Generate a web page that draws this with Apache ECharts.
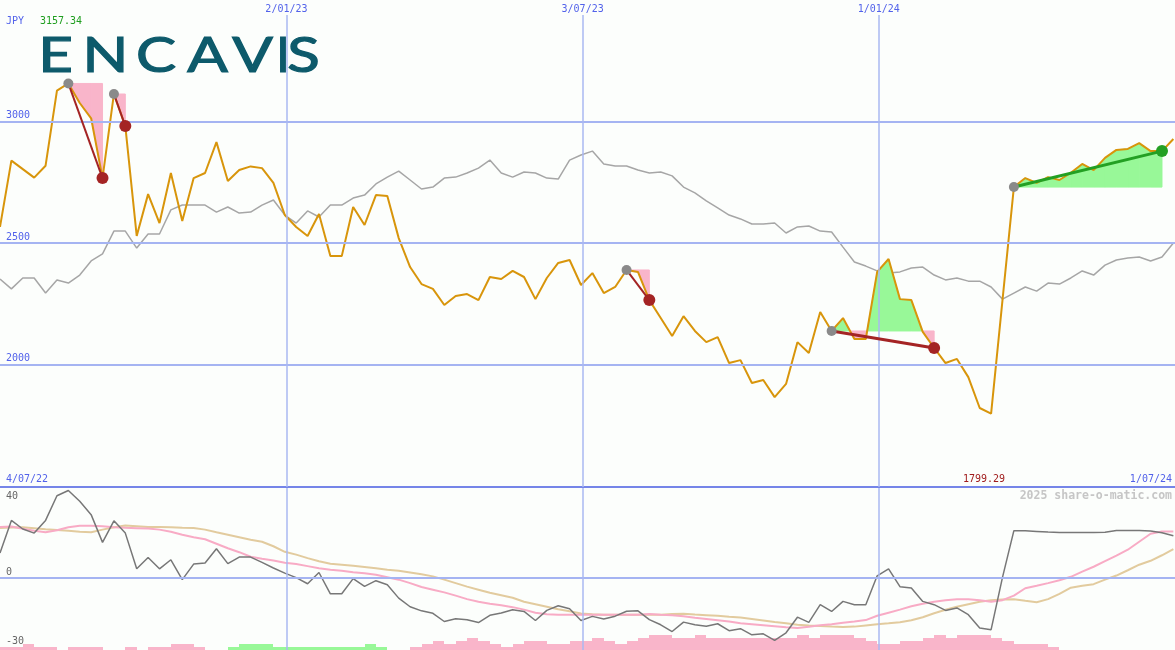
<!DOCTYPE html>
<html>
<head>
<meta charset="utf-8">
<script src="https://cdn.jsdelivr.net/npm/echarts@6/dist/echarts.min.js"></script>
<style>
html,body{margin:0;padding:0;background:#fcfefc;}
#chart{width:1175px;height:650px;}
</style>
</head>
<body>
<div id="chart"></div>
<script>
// ---------- data (weekly closes, Sundays from 10 Jul 2022) ----------
const firstWeek = '2022-07-10';
const axisStart = '2022-07-10';
const axisEnd = '2024-07-01';

const price = [2567, 2840, 2805, 2770, 2819, 3128, 3157.34, 3077, 3014, 2768,
 3114, 2982, 2530, 2702, 2583, 2789, 2591, 2768, 2789, 2916,
 2756, 2801, 2816, 2809, 2748, 2616, 2567, 2530, 2620, 2447,
 2447, 2649, 2575, 2698, 2694, 2521, 2402, 2332, 2312, 2246,
 2283, 2291, 2266, 2361, 2353, 2386, 2361, 2270, 2357, 2419,
 2431, 2328, 2377, 2295, 2320, 2390, 2382, 2266, 2192, 2118,
 2200, 2139, 2093, 2114, 2007, 2019, 1925, 1937, 1867, 1921,
 2093, 2048, 2217, 2139, 2192, 2106, 2106, 2382, 2435, 2270,
 2266, 2135, 2069, 2007, 2024, 1949, 1822, 1799.29, 2266, 2731,
 2768, 2748, 2772, 2760, 2790, 2826, 2801, 2851, 2884, 2888,
 2912, 2879, 2879, 2929];

const benchmark = [2353, 2312, 2357, 2357, 2295, 2349, 2336, 2369, 2427, 2456,
 2550, 2550, 2480, 2538, 2538, 2637, 2657, 2657, 2657, 2628,
 2649, 2624, 2628, 2657, 2678, 2616, 2583, 2633, 2608, 2657,
 2657, 2686, 2698, 2744, 2772, 2797, 2760, 2723, 2731, 2768,
 2772, 2789, 2809, 2842, 2789, 2772, 2793, 2789, 2768, 2764,
 2842, 2863, 2879, 2826, 2818, 2818, 2801, 2789, 2793, 2777,
 2731, 2707, 2674, 2645, 2616, 2600, 2579, 2579, 2583, 2542,
 2567, 2571, 2550, 2546, 2484, 2423, 2406, 2386, 2377, 2382,
 2398, 2402, 2369, 2349, 2357, 2344, 2344, 2320, 2270, 2295,
 2320, 2303, 2336, 2332, 2357, 2386, 2369, 2410, 2431, 2439,
 2443, 2427, 2443, 2501];

const momentum = [12.3, 28.2, 24, 22, 28.2, 40.2, 42.8, 37.5, 31, 17.5,
 28, 22, 4.6, 10.1, 4.6, 9, -0.7, 6.9, 7.4, 14.4,
 7.1, 10.3, 10.3, 7.7, 5, 2.5, 0.3, -2.7, 2.8, -7.6,
 -7.6, -0.2, -4, -1.2, -3.2, -9.7, -13.9, -15.9, -17.1, -21.1,
 -19.8, -20.2, -21.6, -18.1, -17, -15.4, -16.2, -20.6, -15.7, -13.4,
 -14.9, -20.6, -18.6, -19.9, -18.5, -16.1, -15.9, -20.2, -22.7, -26,
 -21.4, -22.7, -23.4, -22.2, -25.6, -24.6, -27.6, -27.1, -30.3, -26.6,
 -19, -21.5, -12.9, -16.2, -11.3, -12.9, -12.9, 1.2, 4.6, -4.1,
 -4.8, -11.3, -12.9, -15.7, -14.5, -17.8, -24.3, -25.1, 0.4, 23.2,
 23.1, 22.8, 22.5, 22.3, 22.3, 22.3, 22.3, 22.4, 23.3, 23.3,
 23.3, 23.0, 22.2, 20.7];

const momentumFast = [25, 25.2, 24.1, 23.2, 22.4, 23.4, 24.9, 25.6, 25.6, 25.4,
 24.9, 24.6, 24.4, 24.2, 23.7, 22.7, 21.2, 20, 19, 16.8,
 14.6, 12.7, 10.5, 9.5, 8.6, 7.6, 6.9, 5.9, 4.9, 4.1,
 3.7, 2.9, 2.4, 1.7, 0.5, -0.7, -2.4, -4.3, -5.6, -6.9,
 -8.5, -10.2, -11.5, -12.4, -13.2, -14.1, -15.3, -16.8, -17.6, -17.8,
 -17.8, -17.8, -17.8, -17.8, -17.8, -17.8, -17.8, -17.5, -17.8, -18,
 -18.5, -19.3, -19.9, -20.5, -21.1, -21.9, -22.4, -22.9, -23.4, -23.9,
 -24.3, -23.7, -22.9, -22.4, -21.7, -21.1, -20.4, -18.3, -16.8, -15.3,
 -13.7, -12.4, -11.5, -10.7, -10.2, -10.2, -10.7, -11.5, -10.7, -8.5,
 -4.9, -3.7, -2.4, -1, 0.7, 3.2, 5.6, 8.3, 11, 13.9,
 17.8, 21.7, 22.8, 22.8];

const momentumSlow = [24.5, 24.7, 24.9, 24.4, 23.9, 23.5, 23.2, 22.7, 22.4, 23.7,
 24.9, 25.7, 25.4, 25, 25, 24.9, 24.6, 24.5, 23.7, 22.4,
 21.2, 20, 18.8, 17.8, 15.6, 12.9, 11.5, 9.8, 8.3, 7.1,
 6.6, 6.1, 5.5, 4.9, 4.1, 3.7, 2.8, 1.9, 0.9, -0.7,
 -2.4, -4.1, -5.6, -7.1, -8.3, -9.5, -11.5, -12.7, -13.9, -15.1,
 -16.1, -17.2, -17.6, -17.8, -17.8, -17.8, -17.8, -17.8, -17.8, -17.5,
 -17.3, -17.7, -18, -18.3, -18.8, -19.2, -19.9, -20.6, -21.4, -22,
 -22.7, -23.1, -23.3, -23.6, -23.8, -23.6, -23, -22.4, -22, -21.5,
 -20.5, -19, -17.1, -15.4, -13.9, -12.7, -11.5, -10.7, -10.4, -10.2,
 -11, -11.7, -10.2, -7.6, -4.6, -3.7, -2.9, -0.7, 1.3, 3.9,
 6.6, 8.5, 11.2, 14.2];

// signed strength bars: positive = green, negative = pink
const strengthBars = [-1, -1, -2, -1, -1, 0, -1, -1, -1, 0,
 0, -1, 0, -1, -1, -2, -2, -1, 0, 0,
 1, 2, 2, 2, 1, 1, 1, 1, 1, 1,
 1, 1, 2, 1, 0, 0, -1, -2, -3, -2,
 -3, -4, -3, -2, -1, -2, -3, -3, -2, -2,
 -3, -3, -4, -3, -2, -3, -4, -5, -5, -4,
 -4, -5, -4, -4, -4, -4, -4, -4, -4, -4,
 -5, -4, -5, -5, -5, -4, -3, -2, -2, -3,
 -3, -4, -5, -4, -5, -5, -5, -4, -3, -2,
 -2, -2, -1, 0, 0, 0, 0, 0, 0, 0,
 0, 0, 0, 0];

// detected patterns (week index ranges)
const patternFrom = [6, 10, 55, 73, 89];
const patternTo = [9, 11, 57, 82, 102];
const patternUp = [false, false, false, false, true];

const priceTicks = [2000, 2500, 3000];
const momentumTicks = [40, 0, -30];
const dateLines = ['2023-01-02', '2023-07-03', '2024-01-01'];
const dateLineLabels = ['2/01/23', '3/07/23', '1/01/24'];
const cornerDates = ['4/07/22', '1/07/24'];
const currency = 'JPY';
const logoLetters = ['E', 'N', 'C', 'A', 'V', 'I', 'S'];
const credit = '2025 share-o-matic.com';

// ---------- styling ----------
const MONO = '"DejaVu Sans Mono", "Liberation Mono", monospace';
const BLUE = '#5262ea';
const HLINE = '#a5b4f2';
const VLINE = '#aab8f2';
const PINK = '#f9b5ca';
const GREEN = '#98f898';
const DARKRED = '#a42424';
const TRENDGREEN = '#23a023';

const WEEK = 7 * 24 * 3600 * 1000;
const t0 = Date.parse(firstWeek);
const dates = price.map((_, i) => t0 + i * WEEK);
const xMin = Date.parse(axisStart), xMax = Date.parse(axisEnd);
const pairs = arr => arr.map((v, i) => [dates[i], v]);

const chart = echarts.init(document.getElementById('chart'), null, {renderer: 'canvas'});

function fillRender(params, api) {
  const s = api.value(2), e = api.value(3), base = api.value(1);
  const children = [];
  const poly = (pts, up) => ({type: 'polygon', shape: {points: pts},
    style: {fill: up ? GREEN : PINK, stroke: up ? GREEN : PINK, lineWidth: 1}});
  for (let k = s; k < e; k++) {
    const a = price[k] - base, b = price[k + 1] - base;
    const P0 = api.coord([dates[k], price[k]]), P1 = api.coord([dates[k + 1], price[k + 1]]);
    const B0 = api.coord([dates[k], base]), B1 = api.coord([dates[k + 1], base]);
    if (a * b < 0) {
      const t = a / (a - b);
      const X = [P0[0] + t * (P1[0] - P0[0]), B0[1]];
      children.push(poly([P0, X, B0], a > 0));
      children.push(poly([X, P1, B1], b > 0));
    } else {
      children.push(poly([P0, P1, B1, B0], (a + b) > 0));
    }
  }
  return {type: 'group', children};
}

function barRender(params, api) {
  const h = api.value(1);
  if (!h) return null;
  const p0 = api.coord([api.value(0), 0]);
  const p1 = api.coord([api.value(2), h]);
  const x0 = Math.round(p0[0]), x1 = Math.round(p1[0]);
  const yb = Math.round(p0[1]), yt = Math.round(p1[1]);
  return {type: 'rect', shape: {x: x0, y: yt, width: x1 - x0, height: yb - yt},
    style: {fill: api.value(3) ? GREEN : PINK}};
}

const trendSeries = patternFrom.map((f, k) => {
  const t = patternTo[k];
  const endColor = patternUp[k] ? TRENDGREEN : DARKRED;
  return {
    type: 'line', xAxisIndex: 0, yAxisIndex: 0, z: 5, silent: true,
    data: [
      {value: [dates[f], price[f]], symbol: 'circle', symbolSize: 10, itemStyle: {color: '#8a8a8a'}},
      {value: [dates[t], price[t]], symbol: 'circle', symbolSize: 12, itemStyle: {color: endColor}}
    ],
    lineStyle: {color: endColor, width: (t - f) > 5 ? 3 : 2},
    showSymbol: true
  };
});

const option = {
  backgroundColor: '#fcfefc',
  animation: false,
  grid: [
    {left: 0, right: 0, top: 15, height: 472, containLabel: false, outerBoundsMode: 'none'},
    {left: 0, right: 0, top: 488, bottom: 0, containLabel: false, outerBoundsMode: 'none'}
  ],
  xAxis: [
    {type: 'time', gridIndex: 0, min: xMin, max: xMax,
      axisLine: {show: true, onZero: false, lineStyle: {color: '#7585e8', width: 2}},
      axisTick: {show: false}, axisLabel: {show: false}, splitLine: {show: false}},
    {type: 'time', gridIndex: 1, min: xMin, max: xMax, show: false}
  ],
  yAxis: [
    {type: 'value', gridIndex: 0, min: 1497, max: 3439, show: false},
    {type: 'value', gridIndex: 1, min: -35, max: 44, show: false},
    {type: 'value', gridIndex: 1, min: 0, max: 54, show: false}
  ],
  series: [
    // upper grid lines
    {type: 'line', xAxisIndex: 0, yAxisIndex: 0, z: 1, data: [], silent: true,
      markLine: {
        silent: true, symbol: ['none', 'none'], animation: false,
        data: priceTicks.map(v => ({yAxis: v,
            lineStyle: {color: HLINE, width: 2, type: 'solid'},
            label: {show: true, position: 'insideStartTop', formatter: String(v), distance: [6, 1],
              color: BLUE, fontFamily: MONO, fontSize: 10}}))
          .concat(dateLines.map((d, i) => ({xAxis: Date.parse(d),
            lineStyle: {color: VLINE, width: 1.5, type: 'solid'},
            label: {show: true, position: 'end', formatter: dateLineLabels[i], distance: 1,
              color: BLUE, fontFamily: MONO, fontSize: 10}})))
      }},
    // benchmark
    {type: 'line', xAxisIndex: 0, yAxisIndex: 0, z: 2, silent: true, data: pairs(benchmark),
      symbol: 'none', lineStyle: {color: '#a6a6a6', width: 1.5}},
    // pattern fills
    {type: 'custom', xAxisIndex: 0, yAxisIndex: 0, z: 3, silent: true, clip: true,
      renderItem: fillRender, encode: {x: 0, y: 1},
      data: patternFrom.map((f, k) => [dates[f], price[f], f, patternTo[k]])},
    // price
    {type: 'line', xAxisIndex: 0, yAxisIndex: 0, z: 4, silent: true, data: pairs(price),
      symbol: 'none', lineStyle: {color: '#d8950b', width: 2}},
    ...trendSeries,
    // lower grid lines
    {type: 'line', xAxisIndex: 1, yAxisIndex: 1, z: 1, data: [], silent: true,
      markLine: {
        silent: true, symbol: ['none', 'none'], animation: false, label: {show: false},
        data: [{yAxis: 0, lineStyle: {color: HLINE, width: 2, type: 'solid'}}]
          .concat(dateLines.map(d => ({xAxis: Date.parse(d), lineStyle: {color: VLINE, width: 1.5, type: 'solid'}})))
      }},
    // strength bars
    {type: 'custom', xAxisIndex: 1, yAxisIndex: 2, z: 2, silent: true, clip: true,
      renderItem: barRender, encode: {x: 0, y: 1},
      data: strengthBars.map((v, i) => [dates[i], Math.abs(v), dates[i] + WEEK, v > 0 ? 1 : 0])},
    {type: 'line', xAxisIndex: 1, yAxisIndex: 1, z: 3, silent: true, data: pairs(momentumSlow),
      symbol: 'none', lineStyle: {color: '#e2cb9e', width: 2}},
    {type: 'line', xAxisIndex: 1, yAxisIndex: 1, z: 3, silent: true, data: pairs(momentumFast),
      symbol: 'none', lineStyle: {color: '#f8abc5', width: 2}},
    {type: 'line', xAxisIndex: 1, yAxisIndex: 1, z: 4, silent: true, data: pairs(momentum),
      symbol: 'none', lineStyle: {color: '#777777', width: 1.5}}
  ]
};
chart.setOption(option);

// ---------- text overlays ----------
const txt = (text, x, y, fill, opts) => Object.assign({
  type: 'text', x: x, y: y, silent: true, z: 100,
  style: Object.assign({text: text, fill: fill, font: '10px ' + MONO,
    align: 'left', verticalAlign: 'middle', textAlign: 'left', textVerticalAlign: 'middle'}, (opts && opts.style) || {})
}, (opts && opts.el) || {});

const maxP = Math.max(...price), minP = Math.min(...price);
const right = (o) => ({style: Object.assign({align: 'right', textAlign: 'right'}, o || {})});
const yM = v => chart.convertToPixel({yAxisIndex: 1}, v);

const logoX = [55.5, 105.5, 156, 207.5, 252.5, 283, 303.5];
const graphics = [
  txt(currency, 6, 21, BLUE),
  txt(maxP.toFixed(2), 40, 21, '#1f9e1f'),
  txt(cornerDates[0], 6, 479, BLUE),
  txt(minP.toFixed(2), 963, 479, '#a01c1c'),
  txt(cornerDates[1], 1172, 479, BLUE, right()),
  txt(credit, 1172, 496, '#c6c6c6', right({font: 'bold 11.5px ' + MONO})),
  txt(String(momentumTicks[0]), 6, yM(momentumTicks[0]), '#666666'),
  txt(String(momentumTicks[1]), 6, yM(momentumTicks[1]) - 1, '#666666', {style: {verticalAlign: 'bottom', textVerticalAlign: 'bottom'}}),
  txt(String(momentumTicks[2]), 6, yM(momentumTicks[2]) + 2, '#666666')
].concat(logoLetters.map((ch, i) => ({
  type: 'text', x: logoX[i], y: 57, scaleX: ch === 'I' ? 1 : 1.25, silent: true, z: 100,
  style: {text: ch, fill: '#0d5a6b', stroke: '#0d5a6b', lineWidth: 1.2,
    font: '48px Lato, "Open Sans", sans-serif',
    align: 'center', verticalAlign: 'middle', textAlign: 'center', textVerticalAlign: 'middle'}
})));
chart.setOption({graphic: {elements: graphics}});
</script>
</body>
</html>
